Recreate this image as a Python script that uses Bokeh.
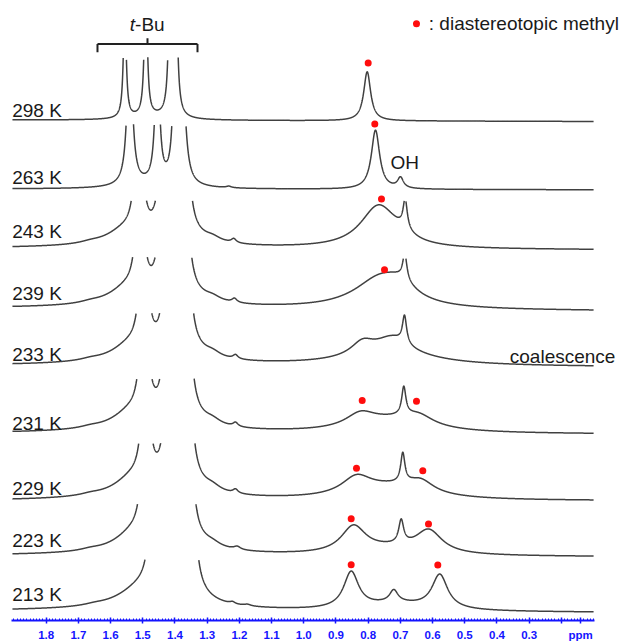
import numpy as np
from bokeh.plotting import figure
from bokeh.models import Range1d, FixedTicker, PrintfTickFormatter
from bokeh.embed import file_html
from bokeh.resources import INLINE
from bokeh.core.properties import value

FONT = "Liberation Sans"

temperatures = ["298 K", "263 K", "243 K", "239 K", "233 K", "231 K", "229 K", "223 K", "213 K"]

# peak tables: (shift in ppm, height, half width in ppm)
peaks_298K = [(1.5559, 117, 0.0050), (1.4907, 150, 0.0050), (1.4140, 222, 0.0047),
              (1.3984, 222, 0.0047), (1.4761, 3, 0.0776), (0.8031, 49, 0.0130)]
peaks_263K = [(1.5404, 153, 0.0093), (1.4549, 138, 0.0078), (1.4000, 120, 0.0078),
              (1.3767, 110, 0.0109), (1.4761, 3, 0.1087), (1.2329, 1.5, 0.0093),
              (0.7773, 59, 0.0155), (0.6997, 10.5, 0.0109)]
peaks_243K = [(1.5537, 14, 0.0683), (1.3674, 10, 0.0621), (1.4761, 3, 0.2484),
              (1.5195, 63, 0.0124), (1.5009, 30.6, 0.0155), (1.4512, 30.6, 0.0155),
              (1.4202, 100, 0.0093), (1.3705, 255, 0.0093),
              (1.6624, 1.5, 0.0373), (1.2835, 4, 0.0311), (1.2174, 4, 0.0093),
              (0.7680, 42, 0.0683), (0.6997, 5, 0.0466), (0.6851, 29, 0.0078)]
peaks_239K = [(1.5484, 15, 0.0683), (1.3695, 10.7, 0.0621), (1.4745, 3.2, 0.2484),
              (1.5143, 67.5, 0.0124), (1.5009, 32.8, 0.0155), (1.4512, 32.8, 0.0155),
              (1.4212, 107, 0.0093), (1.3727, 273, 0.0093),
              (1.6624, 1.5, 0.0373), (1.2835, 4, 0.0311), (1.2152, 4, 0.0093),
              (0.7618, 30, 0.0994), (0.6997, 12, 0.0559), (0.6863, 25.8, 0.0078)]
peaks_233K = [(1.5382, 15.3, 0.0683), (1.3643, 10.9, 0.0621), (1.4667, 3.3, 0.2484),
              (1.5040, 68.8, 0.0124), (1.4854, 33.4, 0.0155), (1.4357, 33.4, 0.0155),
              (1.4108, 109, 0.0093), (1.3674, 279, 0.0093),
              (1.6624, 1.5, 0.0373), (1.2835, 4.5, 0.0311), (1.2121, 4, 0.0093),
              (0.8177, 13, 0.0435), (0.7245, 16, 0.0621), (0.7307, 11, 0.1708),
              (0.6872, 27.5, 0.0078)]
peaks_231K = [(1.5360, 15.9, 0.0683), (1.3624, 11.3, 0.0621), (1.4647, 3.4, 0.2484),
              (1.5018, 71.3, 0.0124), (1.4854, 34.7, 0.0155), (1.4357, 34.7, 0.0155),
              (1.4099, 113, 0.0093), (1.3655, 289, 0.0093),
              (1.6624, 1.5, 0.0373), (1.2835, 4.5, 0.0311), (1.2121, 4, 0.0093),
              (0.8239, 13, 0.0559), (0.6438, 10, 0.0559), (0.7245, 12, 0.1398),
              (0.6894, 28, 0.0078)]
peaks_229K = [(1.5310, 16.7, 0.0683), (1.3602, 12, 0.0621), (1.4612, 3.6, 0.2484),
              (1.4969, 66, 0.0124), (1.4823, 36.5, 0.0155), (1.4326, 36.5, 0.0155),
              (1.4073, 120, 0.0093), (1.3633, 305, 0.0093),
              (1.6624, 1.5, 0.0373), (1.2835, 4.5, 0.0311), (1.2121, 4, 0.0093),
              (0.8363, 17, 0.0559), (0.6376, 12, 0.0497), (0.7307, 12, 0.1398),
              (0.6925, 29.3, 0.0078)]
peaks_223K = [(1.5310, 16, 0.0683), (1.3571, 10.7, 0.0621), (1.4596, 3.2, 0.2484),
              (1.4969, 55, 0.0124), (1.4845, 61.7, 0.0155), (1.4348, 61.7, 0.0155),
              (1.4068, 107, 0.0093), (1.3602, 273, 0.0093),
              (1.6624, 1.5, 0.0373), (1.2835, 3.5, 0.0311), (1.2068, 3, 0.0124),
              (0.8456, 26.2, 0.0466), (0.6118, 22.6, 0.0497), (0.7307, 6, 0.1242),
              (0.6975, 23.3, 0.0093)]
peaks_213K = [(1.5086, 17, 0.0807), (1.3487, 10.7, 0.0621), (1.4466, 3.2, 0.2484),
              (1.4698, 60, 0.0124), (1.4620, 61.7, 0.0155), (1.4217, 61.7, 0.0155),
              (1.3961, 107, 0.0093), (1.3518, 273, 0.0093),
              (1.6500, 1.2, 0.0373), (1.2214, 2, 0.0093), (1.1748, 1.5, 0.0124),
              (0.8528, 36, 0.0280), (0.5776, 33.9, 0.0295), (0.7152, 7, 0.1242),
              (0.7205, 11.9, 0.0155)]

spectra = [peaks_298K, peaks_263K, peaks_243K, peaks_239K, peaks_233K,
           peaks_231K, peaks_229K, peaks_223K, peaks_213K]

# diastereotopic methyl markers: shift (ppm) and level above the trace
methyl_dot_ppm = [[0.800], [0.7795], [0.7587], [0.7493], [],
                  [0.8186, 0.6500], [0.8363, 0.6304], [0.8528, 0.6127], [0.8528, 0.5838]]
methyl_dot_level = [[57.8], [65.5], [50.3], [40.2], [],
                    [33.5, 32.8], [32.8, 30.2], [37.6, 32.6], [47.2, 47.2]]

major_ticks = [0.14, 0.2, 0.3, 0.4, 0.5, 0.6, 0.7, 0.8, 0.9, 1.0, 1.1, 1.2, 1.3, 1.4, 1.5, 1.6, 1.7, 1.8]
tick_overrides = {0.2: "", 0.14: "ppm"}
tbu_span = (1.6407, 1.3301)

# ---- layout (vertical offsets of the stacked traces, in screen-like units) ----
baseline_right = [121.0, 189.3, 249.4, 310.4, 366.4, 433.7, 500.4, 556.3, 612.0]
baseline_left = [119.5, 188.5, 247.9, 307.9, 365.2, 432.9, 500.5, 555.2, 610.5]
clip_height = [63.5, 65.0, 48.5, 52.0, 53.0, 55.0, 58.0, 52.0, 52.0]
label_y = [116.3, 183.3, 237.3, 299.0, 360.7, 429.7, 494.7, 546.7, 600.0]
TEXT_SHIFT = 6.5
X_LEFT, X_RIGHT = 1.905, 0.100

p = figure(width=622, height=644, x_range=Range1d(1.9419, 0.0102), y_range=Range1d(620, 0),
           output_backend="svg", toolbar_location=None, y_axis_location=None,
           min_border_left=0, min_border_right=0, min_border_top=0, min_border_bottom=24)
p.outline_line_color = None
p.grid.visible = False
p.background_fill_color = "white"
p.border_fill_color = "white"

x = np.arange(X_RIGHT, X_LEFT, 0.0004)
LINE = "#404040"


def base_at(i, xx):
    return baseline_right[i] + (baseline_left[i] - baseline_right[i]) * (np.asarray(xx) - X_RIGHT) / (X_LEFT - X_RIGHT)


for i, pk in enumerate(spectra):
    s = np.zeros_like(x)
    for c, h, w in pk:
        s += h * w * w / ((x - c) ** 2 + w * w)
    y = base_at(i, x) - s
    y[s > clip_height[i]] = np.nan
    p.line(x, y, line_color=LINE, line_width=1.5)
    if methyl_dot_ppm[i]:
        dx = np.array(methyl_dot_ppm[i])
        dy = base_at(i, dx) - np.array(methyl_dot_level[i])
        p.scatter(dx, dy, size=7, color="#ff0d0d", line_color=None)

TXT = dict(text_font=value(FONT), text_font_size="19px", text_color="#1a1a1a",
           text_baseline="alphabetic")

# temperature labels
p.text(x=[1.9056] * len(temperatures), y=[v - TEXT_SHIFT for v in label_y],
       text=temperatures, text_align="left", **TXT)

# t-Bu bracket
bc = (tbu_span[0] + tbu_span[1]) / 2
p.segment(x0=[tbu_span[0], tbu_span[0], tbu_span[1], bc], y0=[43.5, 43.5, 43.5, 43.5],
          x1=[tbu_span[1], tbu_span[0], tbu_span[1], bc], y1=[43.5, 51.7, 51.7, 37.7],
          line_color="#222222", line_width=2)
p.text(x=[1.5404], y=[30.5 - TEXT_SHIFT], text=["t"], text_font_style="italic", **TXT)
p.text(x=[1.5239], y=[30.5 - TEXT_SHIFT], text=["-Bu"], **TXT)

# other annotations
p.text(x=[0.7307, 0.3602], y=[168.3 - TEXT_SHIFT, 362.7 - TEXT_SHIFT],
       text=["OH", "coalescence"], **TXT)
p.scatter([0.6500], [23.3], size=7, color="#ff0d0d", line_color=None)
p.text(x=[0.6118], y=[29.3 - TEXT_SHIFT], text=[": diastereotopic methyl"], **TXT)

# axis
BLUE = "#1414ff"
ax = p.xaxis[0]
ax.ticker = FixedTicker(ticks=major_ticks,
                        minor_ticks=[round(0.10 + 0.01 * k, 2) for k in range(181)])
ax.formatter = PrintfTickFormatter(format="%.1f")
ax.major_label_overrides = tick_overrides
ax.bounds = (0.0972, 1.9078)
ax.axis_line_color = BLUE
ax.axis_line_width = 2
ax.major_tick_line_color = BLUE
ax.major_tick_line_width = 1.5
ax.major_tick_in = 3
ax.major_tick_out = 3
ax.minor_tick_line_color = BLUE
ax.minor_tick_line_width = 1
ax.minor_tick_in = 2
ax.minor_tick_out = 0
ax.major_label_text_font = FONT
ax.major_label_text_font_size = "11.5px"
ax.major_label_text_font_style = "bold"
ax.major_label_text_color = BLUE
ax.major_label_standoff = 5

open("out.html", "w").write(file_html(p, INLINE))
